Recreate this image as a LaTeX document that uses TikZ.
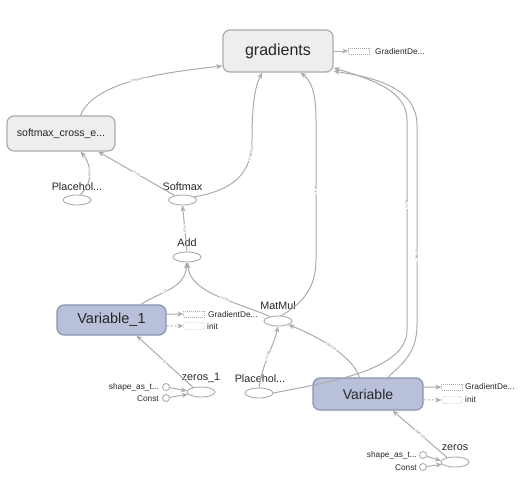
\documentclass[tikz,border=0pt]{standalone}
\usepackage{fontspec}
\setmainfont{Liberation Sans}
\usetikzlibrary{arrows.meta,shapes.geometric}
\definecolor{edgec}{HTML}{ABABAB}
\definecolor{metafill}{HTML}{EEEEEE}
\definecolor{varfill}{HTML}{B9C1DA}
\definecolor{varline}{HTML}{8A93B0}
\definecolor{txt}{HTML}{262626}
\begin{document}
\begin{tikzpicture}[x=1pt,y=-1pt,
  meta/.style={draw=edgec, fill=metafill, rounded corners=7pt, line width=1.2pt, text=txt, inner sep=0pt},
  varbox/.style={draw=varline, fill=varfill, rounded corners=7pt, line width=1.2pt, text=txt, inner sep=0pt},
  op/.style={ellipse, draw=edgec, line width=0.9pt, minimum width=28pt, minimum height=10pt, inner sep=0pt},
  oplab/.style={font=\fontsize{10.8}{12}\selectfont, text=txt, inner sep=0pt},
  cst/.style={circle, draw=edgec, line width=0.9pt, minimum size=7pt, inner sep=0pt},
  small/.style={font=\fontsize{8.3}{9}\selectfont, text=txt, inner sep=0pt},
  auxg/.style={draw=edgec, dash pattern=on 1pt off 1pt, minimum width=21pt, minimum height=6pt, inner sep=0pt, fill=white},
  auxi/.style={draw=edgec, rounded corners=3pt, dash pattern=on 1.5pt off 1.5pt, minimum width=21pt, minimum height=7pt, inner sep=0pt},
  ed/.style={draw=edgec, line width=1pt, -{Stealth[length=6pt,width=5pt]}},
  edd/.style={ed, dash pattern=on 2pt off 2pt},
  el/.style={font=\fontsize{3.5}{4}\selectfont, text=gray, sloped, fill=white, inner sep=0.4pt}
]
\useasboundingbox (0,0) rectangle (527,483);

% main boxes
\node[meta, minimum width=110pt, minimum height=42pt, font=\fontsize{16}{18}\selectfont] (grad) at (278,51) {gradients};
\node[meta, minimum width=108pt, minimum height=35pt, font=\fontsize{10.5}{12}\selectfont] (sce) at (61,133.5) {softmax\_cross\_e...};
\node[varbox, minimum width=109pt, minimum height=30pt, font=\fontsize{14.5}{16}\selectfont] (v1) at (111.5,320) {Variable\_1};
\node[varbox, minimum width=110pt, minimum height=32pt, font=\fontsize{14}{16}\selectfont] (v) at (368,394) {Variable};

% ops
\node[op] (ph1) at (77,200) {};
\node[oplab] (ph1l) at (77,187) {Placehol...};
\node[op] (sm) at (182.5,200) {};
\node[oplab] (sml) at (182.5,187) {Softmax};
\node[op] (add) at (187,257) {};
\node[oplab] (addl) at (187,243) {Add};
\node[op] (mm) at (278,321) {};
\node[oplab] (mml) at (278,306) {MatMul};
\node[op] (z1) at (201,392) {};
\node[oplab] (z1l) at (201,378) {zeros\_1};
\node[op] (ph2) at (259,393) {};
\node[oplab] (ph2l) at (260,379) {Placehol...};
\node[op] (z) at (455,462) {};
\node[oplab] (zl) at (455,448) {zeros};

% constants
\node[cst] (sa1) at (166,387) {};
\node[small, anchor=east] (sa1l) at (159,387) {shape\_as\_t...};
\node[cst] (c1) at (166,398) {};
\node[small, anchor=east] (c1l) at (159,399) {Const};
\node[cst] (sa2) at (423,455) {};
\node[small, anchor=east] (sa2l) at (417,455) {shape\_as\_t...};
\node[cst] (c2) at (423,467) {};
\node[small, anchor=east] (c2l) at (417,468) {Const};

% auxiliary nodes
\node[auxg] (ga) at (359,51) {};
\node[small, anchor=west] (gat) at (375,52) {GradientDe...};
\node[auxg] (g1) at (194,314) {};
\node[small, anchor=west] (g1t) at (208,315) {GradientDe...};
\node[auxi] (i1) at (194,326) {};
\node[small, anchor=west] (i1t) at (207,327) {init};
\node[auxg] (g2) at (452,387) {};
\node[small, anchor=west] (g2t) at (465,387) {GradientDe...};
\node[auxi] (i2) at (452,400) {};
\node[small, anchor=west] (i2t) at (465,400) {init};

% edges
\draw[ed] (sce.43) .. controls (95,80) and (170,72) .. node[el]{2 tensors} (grad.195);
\draw[ed] (ph1.60) .. controls (95,182) and (90,162) .. node[el]{?×10} (sce.317);
\draw[ed] (sm.150) -- node[el]{?×10} (sce.334);
\draw[ed] (sm.15) .. controls (235,190) and (252,172) .. node[el,pos=0.85]{2 tensors} (252,140) .. controls (252,100) and (256,84) .. (grad.234);
\draw[ed] (add.north) -- node[el]{?×10} (sm.south);
\draw[ed] (v1.28) .. controls (160,292) and (186,288) .. node[el,pos=0.4]{10} (add.265);
\draw[ed] (mm.150) .. controls (230,300) and (190,292) .. node[el,pos=0.4]{?×10} (add.275);
\draw[ed] (mm.60) .. controls (300,305) and (316,290) .. (316,260) -- node[el]{?×10} (316,120) .. controls (316,90) and (310,80) .. (grad.316);
\draw[ed] (ph2.north) .. controls (262,365) and (274,345) .. node[el]{?×784} (mm.south);
\draw[ed] (v.117) .. controls (352,355) and (315,335) .. node[el]{784×10} (mm.340);
\draw[ed] (v.40) .. controls (400,365) and (417,355) .. (417,325) -- node[el,pos=0.35]{784×10} (417,125) .. controls (417,90) and (380,78) .. (grad.340);
\draw[ed] (ph2.east) .. controls (330,382) and (407,370) .. (407,330) -- node[el,pos=0.6]{?×784} (407,120) .. controls (407,92) and (375,80) .. (grad.343);
\draw[ed] (z1.150) -- node[el]{10} (v1.328);
\draw[ed] (sa1) -- (z1.175);
\draw[ed] (c1) -- (z1.190);
\draw[ed] (z.150) -- node[el]{784×10} (v.326);
\draw[ed] (sa2) -- (z.175);
\draw[ed] (c2) -- (z.190);

% auxiliary edges
\draw[ed] (grad.east) -- (ga.west);
\draw[ed] (v1.6) -- (g1.west);
\draw[edd] (v1.354) -- (i1.west);
\draw[ed] (v.7) -- (g2.west);
\draw[edd] (v.354) -- (i2.west);
\end{tikzpicture}
\end{document}
